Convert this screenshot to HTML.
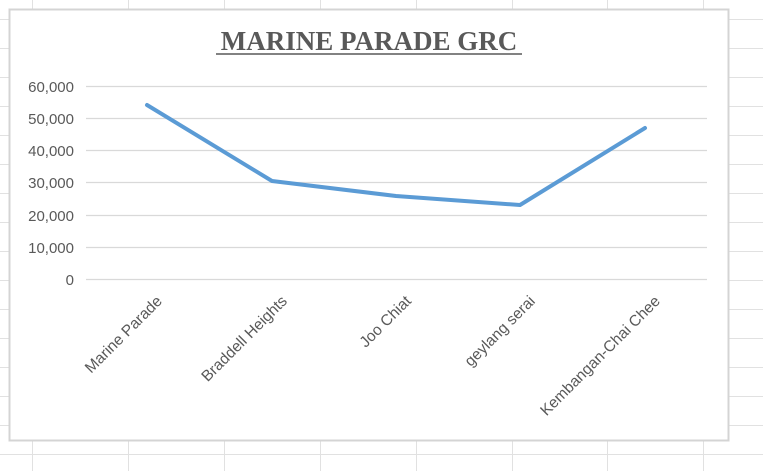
<!DOCTYPE html>
<html><head><style>
body{margin:0;width:763px;height:471px;overflow:hidden;background:#fff;font-family:"Liberation Sans",sans-serif;}
</style></head><body>
<svg width="763" height="471" xmlns="http://www.w3.org/2000/svg" style="position:absolute;left:0;top:0">
<g stroke="#e1e1e1" stroke-width="1">
<line x1="32.5" y1="0" x2="32.5" y2="471"/><line x1="128.5" y1="0" x2="128.5" y2="471"/><line x1="224.5" y1="0" x2="224.5" y2="471"/><line x1="320.5" y1="0" x2="320.5" y2="471"/><line x1="416.5" y1="0" x2="416.5" y2="471"/><line x1="512.5" y1="0" x2="512.5" y2="471"/><line x1="607.5" y1="0" x2="607.5" y2="471"/><line x1="703.5" y1="0" x2="703.5" y2="471"/>
<line x1="0" y1="19.5" x2="763" y2="19.5"/><line x1="0" y1="48.5" x2="763" y2="48.5"/><line x1="0" y1="77.5" x2="763" y2="77.5"/><line x1="0" y1="106.5" x2="763" y2="106.5"/><line x1="0" y1="135.5" x2="763" y2="135.5"/><line x1="0" y1="164.5" x2="763" y2="164.5"/><line x1="0" y1="193.5" x2="763" y2="193.5"/><line x1="0" y1="222.5" x2="763" y2="222.5"/><line x1="0" y1="251.5" x2="763" y2="251.5"/><line x1="0" y1="280.5" x2="763" y2="280.5"/><line x1="0" y1="309.5" x2="763" y2="309.5"/><line x1="0" y1="338.5" x2="763" y2="338.5"/><line x1="0" y1="367.5" x2="763" y2="367.5"/><line x1="0" y1="396.5" x2="763" y2="396.5"/><line x1="0" y1="425.5" x2="763" y2="425.5"/><line x1="0" y1="454.5" x2="763" y2="454.5"/>
</g>
<rect x="9.5" y="9.5" width="719" height="431" fill="#fff" stroke="#d4d4d4" stroke-width="2"/>
<text x="369" y="50" text-anchor="middle" font-family="Liberation Serif,serif" font-weight="bold" font-size="27" fill="#595959">MARINE PARADE GRC</text>
<line x1="216" y1="54" x2="522" y2="54" stroke="#595959" stroke-width="1.5"/>
<g stroke="#d9d9d9" stroke-width="1.3">
<line x1="86" y1="86.5" x2="707" y2="86.5"/><line x1="86" y1="118.5" x2="707" y2="118.5"/><line x1="86" y1="150.5" x2="707" y2="150.5"/><line x1="86" y1="182.5" x2="707" y2="182.5"/><line x1="86" y1="215.5" x2="707" y2="215.5"/><line x1="86" y1="247.5" x2="707" y2="247.5"/><line x1="86" y1="279.5" x2="707" y2="279.5"/>
</g>
<g font-size="15" fill="#595959" text-anchor="end">
<text x="74" y="92">60,000</text><text x="74" y="124">50,000</text><text x="74" y="156">40,000</text><text x="74" y="188">30,000</text><text x="74" y="221">20,000</text><text x="74" y="253">10,000</text><text x="74" y="285">0</text>
</g>
<polyline points="147,105 272,181 396,196 520,205 645,128" fill="none" stroke="#5b9bd5" stroke-width="4" stroke-linejoin="round" stroke-linecap="round"/>
<g font-size="15.5" fill="#595959" text-anchor="end">
<text transform="translate(163,302) rotate(-45)">Marine Parade</text>
<text transform="translate(288,302) rotate(-45)">Braddell Heights</text>
<text transform="translate(412,302) rotate(-45)">Joo Chiat</text>
<text transform="translate(536,302) rotate(-45)">geylang serai</text>
<text transform="translate(661,302) rotate(-45)">Kembangan-Chai Chee</text>
</g>
</svg>
</body></html>
